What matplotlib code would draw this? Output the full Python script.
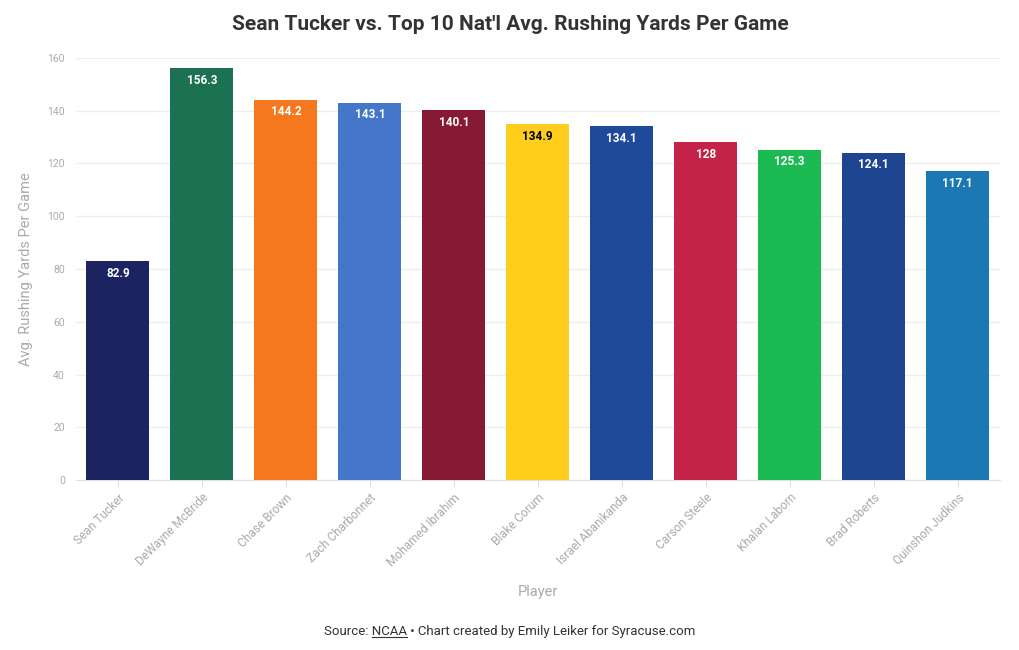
import matplotlib
matplotlib.use('Agg')
import matplotlib.pyplot as plt

players = ['Sean Tucker', 'DeWayne McBride', 'Chase Brown', 'Zach Charbonnet',
           'Mohamed Ibrahim', 'Blake Corum', 'Israel Abanikanda', 'Carson Steele',
           'Khalan Laborn', 'Brad Roberts', 'Quinshon Judkins']
yards = [82.9, 156.3, 144.2, 143.1, 140.1, 134.9, 134.1, 128, 125.3, 124.1, 117.1]
colors = ['#1b2461', '#1b7152', '#f5781e', '#4477c9', '#861a32', '#ffcd1c',
          '#1f4a9b', '#c4244a', '#1cba53', '#1e4590', '#1c78b3']
label_colors = ['white'] * 5 + ['black'] + ['white'] * 5

plt.rcParams['font.family'] = ['Roboto', 'DejaVu Sans']

fig = plt.figure(figsize=(10.2, 6.5), dpi=100)
ax = fig.add_axes([0.0745, 0.2615, 0.9055, 0.6493])

x = list(range(len(players)))
ax.bar(x, yards, width=0.75, color=colors, zorder=3)
for i, v in enumerate(yards):
    ax.text(i, v - 2.2, f'{v:g}', ha='center', va='top', fontsize=8.5,
            fontweight='bold', color=label_colors[i], zorder=4)

ax.set_xlim(-0.5, len(players) - 0.5)
ax.set_ylim(0, 160)
ax.set_yticks(range(0, 161, 20))
ax.grid(axis='y', color='#eeeeee', linewidth=1, zorder=0)
for s in ['top', 'right', 'left']:
    ax.spines[s].set_visible(False)
ax.spines['bottom'].set_color('#e0e0e0')
ax.tick_params(axis='y', length=0, labelsize=7.5, labelcolor='#aaaaaa', pad=8)
ax.tick_params(axis='x', length=5, color='#e0e0e0', labelsize=8.6,
               labelcolor='#aaaaaa', pad=3)
ax.set_xticks(x)
ax.set_xticklabels(players, rotation=45, ha='right', rotation_mode='anchor')
ax.set_xlabel('Player', fontsize=10.5, color='#aaaaaa', labelpad=12)
ax.set_ylabel('Avg. Rushing Yards Per Game', fontsize=10.5, color='#aaaaaa', labelpad=10)

fig.text(0.5, 0.963, "Sean Tucker vs. Top 10 Nat'l Avg. Rushing Yards Per Game",
         ha='center', va='center', fontsize=15, fontweight='bold', color='#333333')

# source line with underlined NCAA
src_full = 'Source: NCAA \u2022 Chart created by Emily Leiker for Syracuse.com'
t = fig.text(0.5, 0.029, src_full, ha='center', va='center', fontsize=9.5, color='#333333')
fig.canvas.draw()
r = fig.canvas.get_renderer()
bb = t.get_window_extent(r)
pre = fig.text(0, 0, 'Source: ', fontsize=9.5)
ncaa = fig.text(0, 0, 'NCAA', fontsize=9.5)
w_pre = pre.get_window_extent(r).width
w_ncaa = ncaa.get_window_extent(r).width
pre.remove()
ncaa.remove()
x0 = (bb.x0 + w_pre) / fig.bbox.width
x1 = (bb.x0 + w_pre + w_ncaa) / fig.bbox.width
yl = (bb.y0 + 1) / fig.bbox.height
fig.add_artist(plt.Line2D([x0, x1], [yl, yl], color='#333333', linewidth=0.8))

fig.savefig('out.png', dpi=100, facecolor='white')
